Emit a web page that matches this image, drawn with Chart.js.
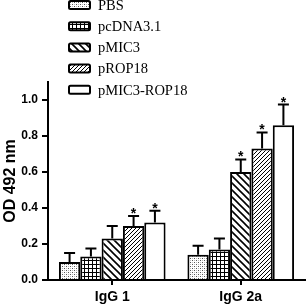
<!DOCTYPE html>
<html>
<head>
<meta charset="utf-8">
<script src="https://cdn.jsdelivr.net/npm/chart.js@4"></script>
<style>
  html, body { margin: 0; padding: 0; background: #fff; }
  #wrap { width: 307px; height: 306px; }
</style>
</head>
<body>
<div id="wrap"><canvas id="odChart" width="307" height="306"></canvas></div>
<script>
// data
const categories = ['IgG 1', 'IgG 2a'];
const groups = ['PBS', 'pcDNA3.1', 'pMIC3', 'pROP18', 'pMIC3-ROP18'];
const pbs = [0.10, 0.14];
const pcdna = [0.13, 0.17];
const pmic3 = [0.23, 0.60];
const prop18 = [0.30, 0.73];
const combo = [0.32, 0.86];
const pbsErr = [0.05, 0.05];
const pcdnaErr = [0.045, 0.06];
const pmic3Err = [0.07, 0.07];
const prop18Err = [0.055, 0.09];
const comboErr = [0.065, 0.115];
// asterisks (p < 0.05)
const pbsSig = [false, false];
const pcdnaSig = [false, false];
const pmic3Sig = [false, true];
const prop18Sig = [true, true];
const comboSig = [true, true];
const yTicks = [0, 0.2, 0.4, 0.6, 0.8, 1.0];

function makePattern(kind) {
    const c = document.createElement('canvas');
    const g = c.getContext('2d');
    let s = 4;
    if (kind === 'back') s = 7;
    c.width = s; c.height = s;
    g.fillStyle = '#fff';
    g.fillRect(0, 0, s, s);
    g.fillStyle = '#000';
    g.strokeStyle = '#000';
    if (kind === 'dots') {
        g.fillStyle = '#555';
        g.fillRect(0, 0, 1, 1);
        g.fillRect(2, 2, 1, 1);
        g.fillStyle = '#bbb';
        g.fillRect(2, 0, 1, 1);
        g.fillRect(0, 2, 1, 1);
    } else if (kind === 'grid') {
        g.fillRect(0, 0, s, 1);
        g.fillRect(0, 0, 1, s);
    } else if (kind === 'back') {
        g.lineWidth = 1.6;
        g.beginPath();
        g.moveTo(-1, -1); g.lineTo(s + 1, s + 1);
        g.moveTo(-1, s - 1); g.lineTo(1, s + 1);
        g.moveTo(s - 1, -1); g.lineTo(s + 1, 1);
        g.stroke();
    } else if (kind === 'fwd') {
        g.lineWidth = 1;
        g.beginPath();
        g.moveTo(-1, s + 1); g.lineTo(s + 1, -1);
        g.moveTo(-1, 1); g.lineTo(1, -1);
        g.moveTo(s - 1, s + 1); g.lineTo(s + 1, s - 1);
        g.stroke();
    } else {
        return '#fff';
    }
    return g.createPattern(c, 'repeat');
}

const ctx = document.getElementById('odChart').getContext('2d');
const fills = [makePattern('dots'), makePattern('grid'), makePattern('back'), makePattern('fwd'), '#fff'];
const seriesValues = [pbs, pcdna, pmic3, prop18, combo];
const seriesErr = [pbsErr, pcdnaErr, pmic3Err, prop18Err, comboErr];
const seriesSig = [pbsSig, pcdnaSig, pmic3Sig, prop18Sig, comboSig];

const errorBars = {
    id: 'errorBars',
    afterDatasetsDraw(chart) {
        const c = chart.ctx;
        const yScale = chart.scales.y;
        c.save();
        c.strokeStyle = '#000';
        c.fillStyle = '#000';
        c.lineWidth = 2;
        chart.data.datasets.forEach((ds, i) => {
            const meta = chart.getDatasetMeta(i);
            meta.data.forEach((bar, j) => {
                const top = yScale.getPixelForValue(ds.data[j] + ds.err[j]);
                c.beginPath();
                c.moveTo(bar.x, bar.y);
                c.lineTo(bar.x, top);
                c.moveTo(bar.x - 5.5, top);
                c.lineTo(bar.x + 5.5, top);
                c.stroke();
                if (ds.sig[j]) {
                    c.font = 'bold 14px "Liberation Sans", Arial, sans-serif';
                    c.textAlign = 'center';
                    c.textBaseline = 'alphabetic';
                    c.fillText('*', bar.x, top + 2);
                }
            });
        });
        c.restore();
    }
};

const legendBox = {
    id: 'legendBox',
    afterDraw(chart) {
        const c = chart.ctx;
        c.save();
        chart.data.datasets.forEach((ds, i) => {
            const cy = 5 + i * 21.2;
            c.beginPath();
            c.roundRect(69, cy - 4, 21, 8, 1.5);
            c.fillStyle = ds.backgroundColor;
            c.fill();
            c.lineWidth = 2;
            c.strokeStyle = '#000';
            c.stroke();
            c.fillStyle = '#000';
            c.font = '14.5px "Liberation Serif", "Times New Roman", serif';
            c.textAlign = 'left';
            c.textBaseline = 'middle';
            c.fillText(ds.label, 98, cy + 1);
        });
        c.restore();
    }
};

new Chart(ctx, {
    type: 'bar',
    data: {
        labels: categories,
        datasets: groups.map((name, i) => ({
            label: name,
            data: seriesValues[i],
            err: seriesErr[i],
            sig: seriesSig[i],
            backgroundColor: fills[i],
            borderColor: '#000',
            borderWidth: 2,
            categoryPercentage: 0.83,
            barPercentage: 1.0
        }))
    },
    options: {
        responsive: false,
        animation: false,
        layout: { padding: { top: 82, right: 2, left: 0, bottom: 0 } },
        plugins: {
            legend: { display: false },
            tooltip: { enabled: false }
        },
        scales: {
            x: {
                border: { color: '#000', width: 2 },
                grid: { offset: false, drawOnChartArea: false, color: '#000', lineWidth: 2, tickLength: 5 },
                ticks: {
                    color: '#000',
                    padding: 4,
                    font: { family: '"Liberation Sans", Arial, sans-serif', size: 14, weight: 'bold' }
                },
                afterFit(scale) { scale.height = 26; }
            },
            y: {
                min: 0,
                max: 1.1,
                border: { color: '#000', width: 2 },
                grid: { drawOnChartArea: false, color: '#000', lineWidth: 2, tickLength: 6 },
                afterBuildTicks(scale) { scale.ticks = yTicks.map(v => ({ value: v })); },
                ticks: {
                    color: '#000',
                    padding: 4,
                    callback: v => v.toFixed(1),
                    font: { family: '"Liberation Sans", Arial, sans-serif', size: 12, weight: 'bold' }
                },
                title: {
                    display: true,
                    text: 'OD 492 nm',
                    color: '#000',
                    padding: { top: 1, bottom: 0 },
                    font: { family: '"Liberation Sans", Arial, sans-serif', size: 16, weight: 'bold' }
                },
                afterFit(scale) { scale.width = 48; }
            }
        }
    },
    plugins: [errorBars, legendBox]
});
</script>
</body>
</html>
